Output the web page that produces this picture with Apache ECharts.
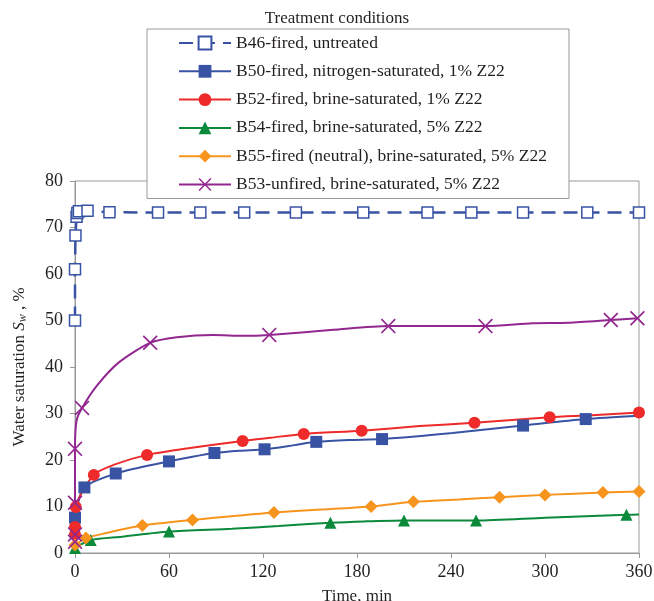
<!DOCTYPE html>
<html>
<head>
<meta charset="utf-8">
<script src="https://cdn.jsdelivr.net/npm/echarts@6/dist/echarts.min.js"></script>
<style>
  html, body { margin: 0; padding: 0; background: #fff; }
  #myChart { width: 654px; height: 601px; }
</style>
</head>
<body>
<div id="myChart"></div>
<script>
// ---------------- data (time in min, water saturation in %) ----------------

const xTicks = [0, 60, 120, 180, 240, 300, 360];
const yTicks = [0, 10, 20, 30, 40, 50, 60, 70, 80];

const seriesNames = [
  "B46-fired, untreated",
  "B50-fired, nitrogen-saturated, 1% Z22",
  "B52-fired, brine-saturated, 1% Z22",
  "B54-fired, brine-saturated, 5% Z22",
  "B55-fired (neutral), brine-saturated, 5% Z22",
  "B53-unfired, brine-saturated, 5% Z22",
];

// points with a marker
const b46Marks = [[0, 50], [0, 61], [0.3, 68.3], [1, 72.3], [1.5, 73.1], [2.5, 73.5], [8, 73.6], [22, 73.3],
  [53, 73.2], [80, 73.2], [108, 73.2], [141, 73.2], [184, 73.2], [225, 73.2], [253, 73.2], [286, 73.2], [327, 73.2], [360, 73.2]];
const b50Marks = [[0, 7.6], [6, 14.1], [26, 17.1], [60, 19.7], [89, 21.5], [121, 22.3], [154, 23.9], [196, 24.5], [286, 27.4], [326, 28.8]];
const b52Marks = [[0, 4], [0, 5.6], [0.5, 9.9], [12, 16.8], [46, 21.1], [107, 24.1], [146, 25.6], [183, 26.3], [255, 28.0], [303, 29.2], [360, 30.2]];
const b54Marks = [[0, 1.1], [10, 2.8], [60, 4.6], [163, 6.5], [210, 7.0], [256, 7.0], [352, 8.2]];
const b55Marks = [[0, 1.7], [7, 3.2], [43, 5.9], [75, 7.1], [127, 8.7], [189, 10.0], [216, 11.0], [271, 12.0], [300, 12.5], [337, 13.0], [360, 13.2]];
const b53Marks = [[0, 2.4], [0, 4], [0, 10.8], [0, 22.4], [4.5, 31.2], [48, 45.2], [124, 46.9], [200, 48.8], [262, 48.8], [342, 50.1], [359, 50.5]];

// extra points on the curves (no marker)
const b46Curve = [];
const b50Curve = [[40, 18.3], [75, 20.7], [105, 22.0], [140, 23.2], [175, 24.3], [241, 25.8], [360, 29.5]];
const b52Curve = [[25, 19], [70, 22.4], [125, 24.8], [220, 27.3], [330, 29.6]];
const b54Curve = [[30, 3.5], [100, 5.2], [130, 5.8], [185, 6.8], [300, 7.6], [360, 8.3]];
const b55Curve = [[20, 4.3], [100, 7.9], [160, 9.4], [245, 11.5]];
const b53Curve = [[1, 28.5], [14, 36], [28, 41], [65, 46.4], [88, 46.9], [108, 46.7], [165, 48], [230, 48.8], [292, 49.4], [315, 49.5]];

// marker points + curve points, sorted by time
function buildData(marks, curve) {
  const pts = marks.map((p) => ({ v: p, m: true })).concat(curve.map((p) => ({ v: p, m: false })));
  pts.sort((a, b) => a.v[0] - b.v[0]);
  return pts.map((p) => (p.m ? { value: p.v } : { value: p.v, symbol: "none" }));
}

const FONT = "Liberation Serif";
const BLUE = "#3953a4";
const RED = "#ee2a2a";
const GREEN = "#0b8a3c";
const ORANGE = "#f7941d";
const PURPLE = "#92278f";
const CROSS = "path://M0,0.8L0.8,0L5,4.2L9.2,0L10,0.8L5.8,5L10,9.2L9.2,10L5,5.8L0.8,10L0,9.2L4.2,5Z";

let chartDom = document.getElementById("myChart");
let myChart = echarts.init(chartDom);
let option;

function lineSeries(name, data, color, symbol, size, extra) {
  return Object.assign({
    name: name,
    type: "line",
    data: data,
    smooth: 0.25,
    symbol: symbol,
    symbolSize: size,
    showAllSymbol: true,
    lineStyle: { color: color, width: 2 },
    itemStyle: { color: color },
  }, extra || {});
}

option = {
  animation: false,
  textStyle: { fontFamily: FONT, color: "#231f20" },
  graphic: [
    {
      type: "text",
      x: 337,
      y: 19,
      style: {
        text: "Treatment conditions",
        font: "17px " + FONT,
        fill: "#231f20",
        textAlign: "center",
        textVerticalAlign: "middle",
      },
    },
  ],
  legend: {
    orient: "vertical",
    left: 147,
    top: 29,
    padding: [5, 22, 5, 31],
    itemWidth: 52,
    itemHeight: 16,
    itemGap: 10.3,
    backgroundColor: "#fff",
    borderColor: "#999",
    borderWidth: 1,
    borderRadius: 0,
    textStyle: { fontFamily: FONT, fontSize: 17.5, color: "#231f20" },
    data: seriesNames,
  },
  grid: {
    left: 75,
    right: 15,
    top: 181,
    bottom: 48,
    outerBoundsMode: "none",
    containLabel: false,
    show: true,
    borderColor: "#999",
    borderWidth: 1,
  },
  xAxis: {
    type: "value",
    min: xTicks[0],
    max: xTicks[xTicks.length - 1],
    interval: 60,
    name: "Time, min",
    nameLocation: "middle",
    nameGap: 35,
    nameTextStyle: { fontFamily: FONT, fontSize: 17, color: "#231f20" },
    axisLine: { lineStyle: { color: "#999" } },
    axisTick: { show: true, length: 5, lineStyle: { color: "#999" } },
    axisLabel: { fontFamily: FONT, fontSize: 18, color: "#231f20", margin: 10 },
    splitLine: { show: false },
  },
  yAxis: {
    type: "value",
    min: yTicks[0],
    max: yTicks[yTicks.length - 1],
    interval: 10,
    name: "{a|Water saturation }{i|S}{s|w}{a| , %}",
    nameLocation: "middle",
    nameGap: 46,
    nameTextStyle: {
      fontFamily: FONT,
      fontSize: 17,
      color: "#231f20",
      rich: {
        a: { fontFamily: FONT, fontSize: 17, color: "#231f20" },
        i: { fontFamily: FONT, fontSize: 17, fontStyle: "italic", color: "#231f20" },
        s: { fontFamily: FONT, fontSize: 12, fontStyle: "italic", color: "#231f20", padding: [6, 0, 0, 0] },
      },
    },
    axisLine: { show: true, lineStyle: { color: "#999" } },
    axisTick: { show: true, length: 5, lineStyle: { color: "#999" } },
    axisLabel: { fontFamily: FONT, fontSize: 18, color: "#231f20", margin: 12 },
    splitLine: { show: false },
  },
  series: [
    lineSeries(seriesNames[0], buildData(b46Marks, b46Curve), BLUE, "rect", 11, {
      smooth: false,
      lineStyle: { color: BLUE, width: 2.5, type: [14, 8] },
      itemStyle: { color: "#fff", borderColor: BLUE, borderWidth: 1.5 },
    }),
    lineSeries(seriesNames[1], buildData(b50Marks, b50Curve), BLUE, "rect", 12),
    lineSeries(seriesNames[2], buildData(b52Marks, b52Curve), RED, "circle", 12),
    lineSeries(seriesNames[3], buildData(b54Marks, b54Curve), GREEN, "triangle", 12),
    lineSeries(seriesNames[4], buildData(b55Marks, b55Curve), ORANGE, "diamond", 13),
    lineSeries(seriesNames[5], buildData(b53Marks, b53Curve), PURPLE, CROSS, 15),
  ],
};
myChart.setOption(option);

window.onresize = function () {
  myChart.resize();
};
</script>
</body>
</html>
